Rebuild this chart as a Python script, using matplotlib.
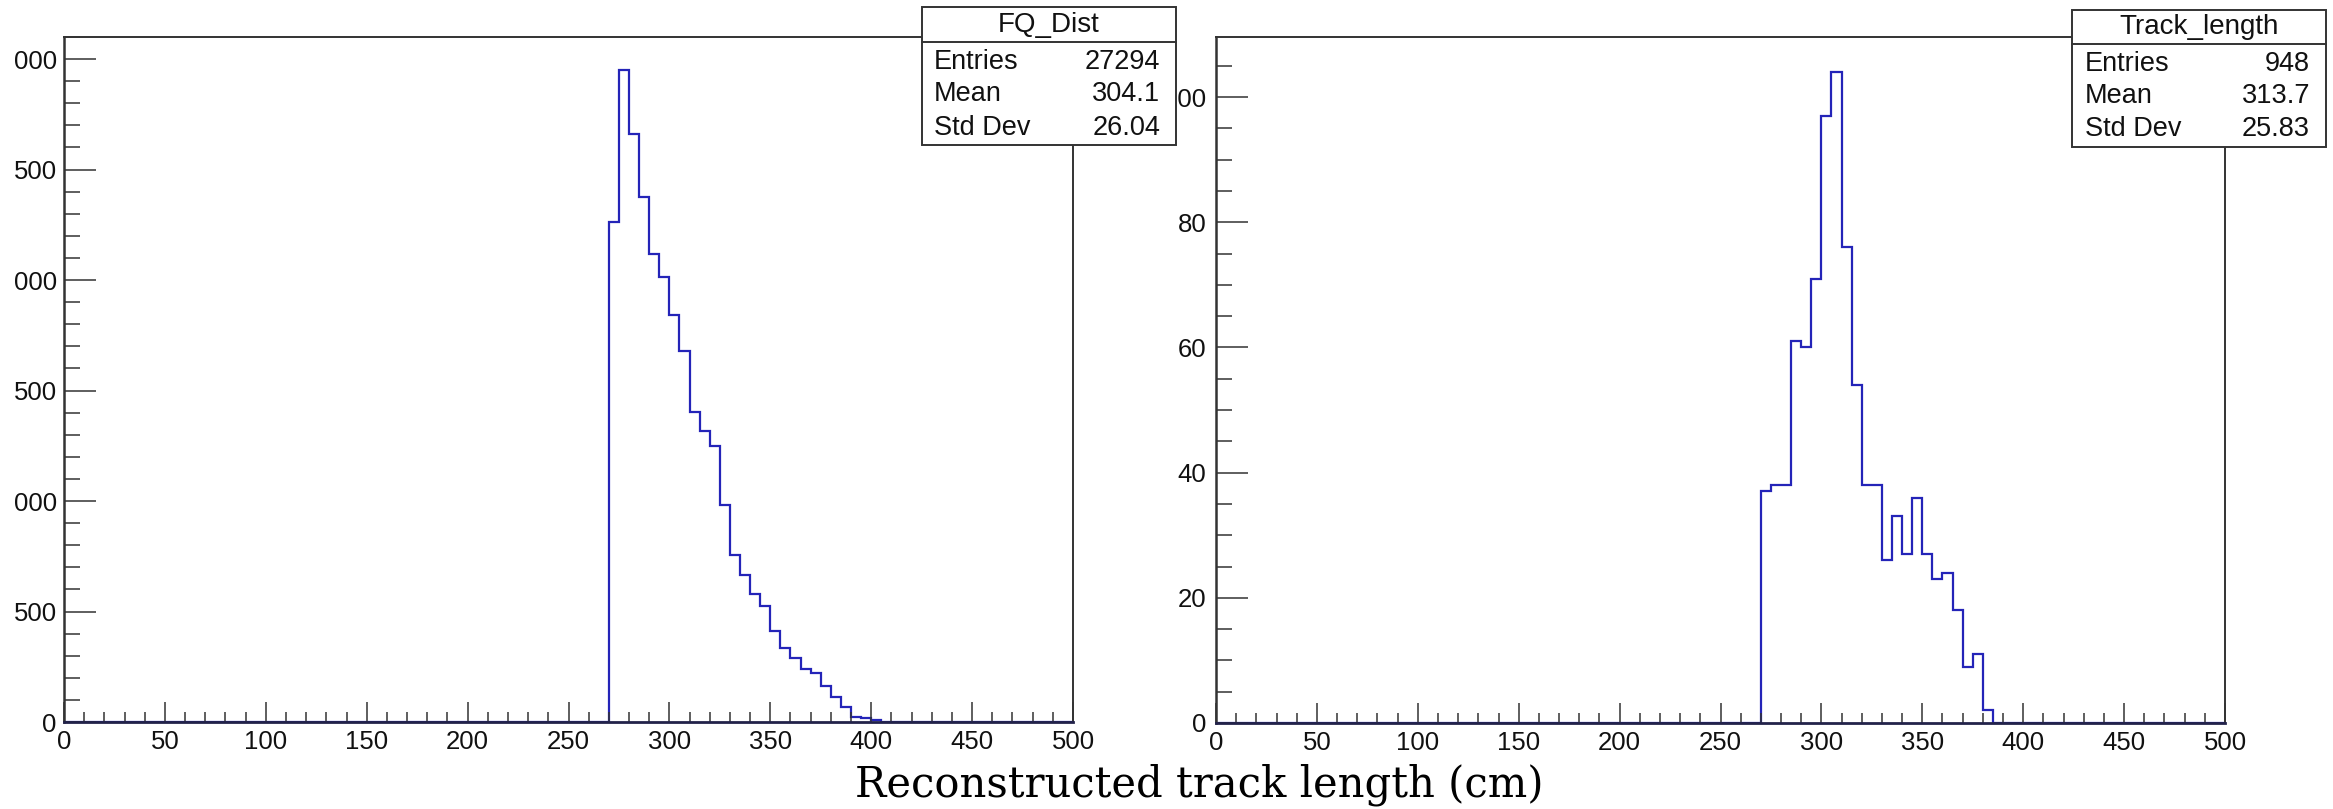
import numpy as np
import matplotlib
matplotlib.use("Agg")
import matplotlib.pyplot as plt
from matplotlib.patches import Rectangle
from matplotlib.lines import Line2D
from matplotlib.ticker import MultipleLocator, FixedLocator

plt.rcParams['font.family'] = ['Liberation Sans', 'DejaVu Sans']

# ---------------- data ----------------
bin_width = 5
x_min, x_max = 0, 500

fq_first_edge = 270
fq_counts = [2263, 2951, 2662, 2375, 2120, 2015, 1843, 1677, 1403, 1318, 1247,
             984, 758, 665, 580, 523, 414, 333, 291, 241, 220, 162, 111, 69,
             24, 18, 10]

tl_first_edge = 270
tl_counts = [37, 38, 38, 61, 60, 71, 97, 104, 76, 54, 38, 38, 26, 33, 27, 36,
             27, 23, 24, 18, 9, 11, 2]

x_ticks = [0, 50, 100, 150, 200, 250, 300, 350, 400, 450, 500]
x_tick_labels = ["0", "50", "100", "150", "200", "250", "300", "350", "400", "450", "500"]

fq_y_ticks = [0, 500, 1000, 1500, 2000, 2500, 3000]
fq_y_tick_labels = ["0", "500", "000", "500", "000", "500", "000"]   # leading digit cropped in the source
fq_y_max = 3100

tl_y_ticks = [0, 20, 40, 60, 80, 100]
tl_y_tick_labels = ["0", "20", "40", "60", "80", "100"]
tl_y_max = 109.6

stat_names = ["Entries", "Mean", "Std Dev"]
fq_title = "FQ_Dist"
fq_stat_values = ["27294", "304.1", "26.04"]
tl_title = "Track_length"
tl_stat_values = ["948", "313.7", "25.83"]

x_label = "Reconstructed track length (cm)"

# ---------------- layout helpers ----------------
W, H = 2333, 809
fig = plt.figure(figsize=(W / 100, H / 100), dpi=100)
fig.patch.set_facecolor('white')


def fx(p):
    return p / W


def fy(p):
    return 1 - p / H


def full_hist(first_edge, counts):
    edges = np.arange(x_min, x_max + bin_width, bin_width)
    full = np.zeros(len(edges) - 1)
    i0 = int((first_edge - x_min) / bin_width)
    full[i0:i0 + len(counts)] = counts
    return edges, full


LINE_COLOR = '#2424b8'
FRAME = '#333333'
TICK_FS = 18.5


def style_axes(ax, yticks, ylabels, ymax, yminor, ypad):
    ax.set_xlim(x_min, x_max)
    ax.set_ylim(0, ymax)
    ax.xaxis.set_major_locator(FixedLocator(x_ticks))
    ax.set_xticklabels(x_tick_labels)
    ax.xaxis.set_minor_locator(MultipleLocator(10))
    ax.yaxis.set_major_locator(FixedLocator(yticks))
    ax.set_yticklabels(ylabels)
    ax.yaxis.set_minor_locator(MultipleLocator(yminor))
    ax.tick_params(which='both', direction='in', top=False, right=False,
                   color=FRAME, width=1.1, labelsize=TICK_FS, labelcolor='#111111')
    ax.tick_params(axis='x', which='major', length=14.4, pad=6.0)
    ax.tick_params(axis='x', which='minor', length=7.2)
    ax.tick_params(axis='y', which='major', length=23, pad=ypad)
    ax.tick_params(axis='y', which='minor', length=11.5)
    for s in ax.spines.values():
        s.set_color(FRAME)
        s.set_linewidth(1.4)
    ax.spines['bottom'].set_linewidth(2.0)
    ax.spines['bottom'].set_color('#22224a')
    ax.spines['left'].set_linewidth(1.8)
    ax.set_facecolor('white')


ax1 = fig.add_axes([fx(64), fy(722), fx(1073) - fx(64), fy(37) - fy(722)])
edges, full = full_hist(fq_first_edge, fq_counts)
ax1.stairs(full, edges, color=LINE_COLOR, linewidth=1.6, baseline=0)
style_axes(ax1, fq_y_ticks, fq_y_tick_labels, fq_y_max, 100, 5.2)

ax2 = fig.add_axes([fx(1216), fy(723), fx(2225) - fx(1216), fy(37) - fy(723)])
edges, full = full_hist(tl_first_edge, tl_counts)
ax2.stairs(full, edges, color=LINE_COLOR, linewidth=1.6, baseline=0)
style_axes(ax2, tl_y_ticks, tl_y_tick_labels, tl_y_max, 5, 7.0)


def stat_box(x0, y0, x1, y1, ysep, title, values, tx_left, tx_right, row_ys):
    fig.add_artist(Rectangle((fx(x0), fy(y1)), fx(x1) - fx(x0), fy(y0) - fy(y1),
                             transform=fig.transFigure, facecolor='white',
                             edgecolor=FRAME, linewidth=1.4, zorder=10))
    fig.add_artist(Line2D([fx(x0), fx(x1)], [fy(ysep), fy(ysep)],
                          transform=fig.transFigure, color=FRAME,
                          linewidth=1.4, zorder=11))
    fig.text(fx((x0 + x1) / 2), fy((y0 + ysep) / 2), title, ha='center',
             va='center', fontsize=20, color='#111111', zorder=12)
    for name, val, ry in zip(stat_names, values, row_ys):
        fig.text(fx(tx_left), fy(ry), name, ha='left', va='center',
                 fontsize=19.5, color='#111111', zorder=12)
        fig.text(fx(tx_right), fy(ry), val, ha='right', va='center',
                 fontsize=19.5, color='#111111', zorder=12)


stat_box(922, 7, 1176, 145, 42, fq_title, fq_stat_values, 934, 1160, [62, 94, 128])
stat_box(2072, 10, 2326, 147, 44, tl_title, tl_stat_values, 2085, 2310, [64, 96, 129])

fig.text(fx(1199), fy(797), x_label, ha='center', va='baseline',
         family='DejaVu Serif', fontsize=30, color='black')

fig.savefig('out.png', dpi=100, facecolor='white')
